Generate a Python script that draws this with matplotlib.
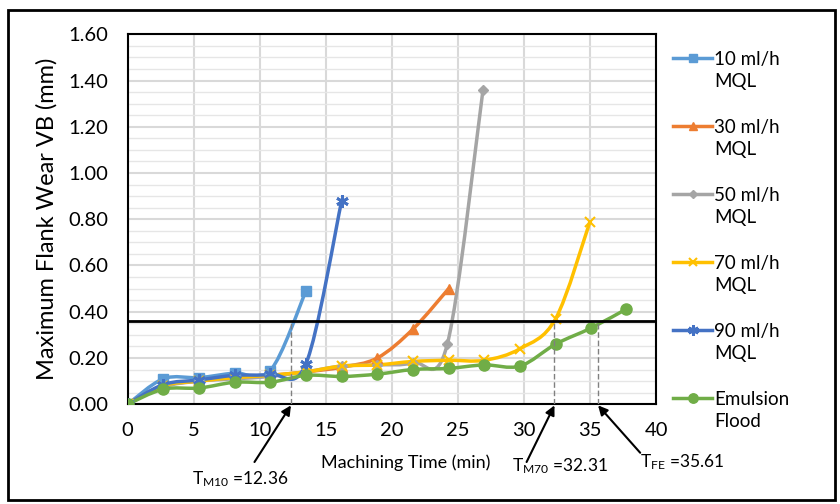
import matplotlib
matplotlib.use("Agg")
import matplotlib.pyplot as plt
import numpy as np
from matplotlib.path import Path
from matplotlib.patches import PathPatch, Rectangle
from matplotlib.lines import Line2D

plt.rcParams['font.family'] = ['Lato', 'DejaVu Sans']
plt.rcParams['mathtext.fontset'] = 'custom'
plt.rcParams['mathtext.rm'] = 'Lato'
plt.rcParams['mathtext.it'] = 'Lato:italic'

# ---- data ----
labels = ["10 ml/h\nMQL", "30 ml/h\nMQL", "50 ml/h\nMQL", "70 ml/h\nMQL", "90 ml/h\nMQL", "Emulsion\nFlood"]
x_10 = [0, 2.7, 5.4, 8.1, 10.8, 13.5]
y_10 = [0, 0.11, 0.115, 0.135, 0.145, 0.49]
x_30 = [0, 2.7, 5.4, 8.1, 10.8, 13.5, 16.2, 18.9, 21.6, 24.3]
y_30 = [0, 0.08, 0.10, 0.115, 0.125, 0.14, 0.16, 0.20, 0.325, 0.50]
x_50 = [0, 2.7, 5.4, 8.1, 10.8, 13.5, 16.2, 18.9, 21.6, 24.2, 26.9]
y_50 = [0, 0.075, 0.10, 0.11, 0.12, 0.14, 0.165, 0.17, 0.18, 0.26, 1.36]
x_70 = [0, 2.7, 5.4, 8.1, 10.8, 13.5, 16.2, 18.9, 21.6, 24.3, 27.0, 29.7, 32.4, 35.0]
y_70 = [0, 0.08, 0.10, 0.115, 0.125, 0.14, 0.165, 0.17, 0.185, 0.19, 0.19, 0.24, 0.37, 0.79]
x_90 = [0, 2.7, 5.4, 8.1, 10.8, 13.5, 16.2]
y_90 = [0, 0.085, 0.105, 0.125, 0.13, 0.175, 0.88]
x_fe = [0, 2.7, 5.4, 8.1, 10.8, 13.5, 16.2, 18.9, 21.6, 24.3, 27.0, 29.7, 32.4, 35.1, 37.7]
y_fe = [0, 0.065, 0.07, 0.095, 0.095, 0.125, 0.12, 0.13, 0.15, 0.155, 0.17, 0.165, 0.26, 0.33, 0.41]

threshold = 0.36
t_marks = [12.36, 32.31, 35.61]
t_texts = [r"T$_{\mathrm{M10}}$ =12.36", r"T$_{\mathrm{M70}}$ =32.31", r"T$_{\mathrm{FE}}$ =35.61"]

colors = ["#5B9BD5", "#ED7D31", "#A5A5A5", "#FFC000", "#4472C4", "#70AD47"]
markers = ["s", "^", "D", "x", (6, 2, 0), "o"]
msizes = [7, 7, 5, 7, 9, 8]
mews = [1, 1, 1, 1.5, 2, 1]
series = [(x_10, y_10), (x_30, y_30), (x_50, y_50), (x_70, y_70), (x_90, y_90), (x_fe, y_fe)]

W, H = 840, 504
fig = plt.figure(figsize=(8.4, 5.04), dpi=100)
ax = fig.add_axes([0.152, 0.198, 0.629, 0.734])

def smooth_path(xs, ys):
    pts = np.column_stack([xs, ys]).astype(float)
    n = len(pts)
    verts = [pts[0]]
    codes = [Path.MOVETO]
    for i in range(n - 1):
        p0 = pts[i - 1] if i > 0 else pts[i]
        p1 = pts[i]
        p2 = pts[i + 1]
        p3 = pts[i + 2] if i + 2 < n else pts[i + 1]
        c1 = p1 + (p2 - p0) / 6.0
        c2 = p2 - (p3 - p1) / 6.0
        verts += [c1, c2, p2]
        codes += [Path.CURVE4] * 3
    return Path(verts, codes)

for (xs, ys), c, m, ms, mew in zip(series, colors, markers, msizes, mews):
    patch = PathPatch(smooth_path(xs, ys), fill=False, edgecolor=c, lw=2.5, zorder=3)
    ax.add_patch(patch)
    ax.plot(xs, ys, linestyle="none", marker=m, color=c, markersize=ms, mew=mew, zorder=4)

ax.axhline(threshold, color="black", lw=2, zorder=6)
for t in t_marks:
    ax.plot([t, t], [0, threshold], color="#808080", lw=1, ls=(0, (4, 2)), zorder=5)

ax.set_xlim(0, 40)
ax.set_ylim(0, 1.6)
ax.set_xticks(np.arange(0, 41, 5))
ax.set_yticks(np.arange(0, 1.61, 0.2))
ax.set_yticklabels([f"{v:.2f}" for v in np.arange(0, 1.61, 0.2)])
ax.set_yticks(np.arange(0, 1.61, 0.05), minor=True)
ax.grid(True, which="major", color="#D9D9D9", lw=1.5, zorder=0)
ax.grid(True, which="minor", axis="y", color="#E6E6E6", lw=1.0, zorder=0)
ax.set_axisbelow(True)
ax.tick_params(axis="both", which="both", length=0, labelsize=14.5)
ax.tick_params(axis="x", pad=13)
ax.tick_params(axis="y", pad=14)
for s in ax.spines.values():
    s.set_color("black")
    s.set_linewidth(1.5)

ax.set_xlabel("Machining Time (min)", fontsize=13)
ax.xaxis.set_label_coords(0.527, -0.135)
ax.set_ylabel("Maximum Flank Wear VB (mm)", fontsize=17, labelpad=8)

# annotations (arrows below axis)
tails = [(9.6, -0.25), (30.2, -0.25), (38.8, -0.21)]
tpos = [(8.5, -0.325), (32.7, -0.27), (42.0, -0.25)]
for t, tail, tp, txt in zip(t_marks, tails, tpos, t_texts):
    ax.annotate("", xy=(t, -0.005), xytext=tail, xycoords="data", textcoords="data",
                arrowprops=dict(arrowstyle="-|>", color="black", lw=1.5, mutation_scale=14,
                                shrinkA=0, shrinkB=0),
                annotation_clip=False)
    ax.text(tp[0], tp[1], txt, fontsize=12.5, ha="center", va="center", clip_on=False)

# legend (drawn manually: handle aligned with first text line, as in the reference)
y0, pitch, inner = 58, 68, 22
for i, (lab, c, m, ms, mew) in enumerate(zip(labels, colors, markers, msizes, mews)):
    yy = 1 - (y0 + i * pitch) / H
    fig.add_artist(Line2D([673 / W, 712 / W], [yy, yy], transform=fig.transFigure,
                          color=c, lw=2.5))
    fig.add_artist(Line2D([692.5 / W], [yy], transform=fig.transFigure, color=c,
                          marker=m, markersize=ms * 0.85, mew=mew, linestyle="none"))
    l1, l2 = lab.split("\n")
    fig.text(714 / W, yy, l1, fontsize=13.5, ha="left", va="center_baseline")
    fig.text(714 / W, 1 - (y0 + i * pitch + inner) / H, l2, fontsize=13.5, ha="left",
             va="center_baseline")

fig.patches.append(Rectangle((8 / W, 4 / H), 827 / W, 490 / H, transform=fig.transFigure,
                             fill=False, edgecolor="black", lw=2))

fig.savefig("out.png", dpi=100)
